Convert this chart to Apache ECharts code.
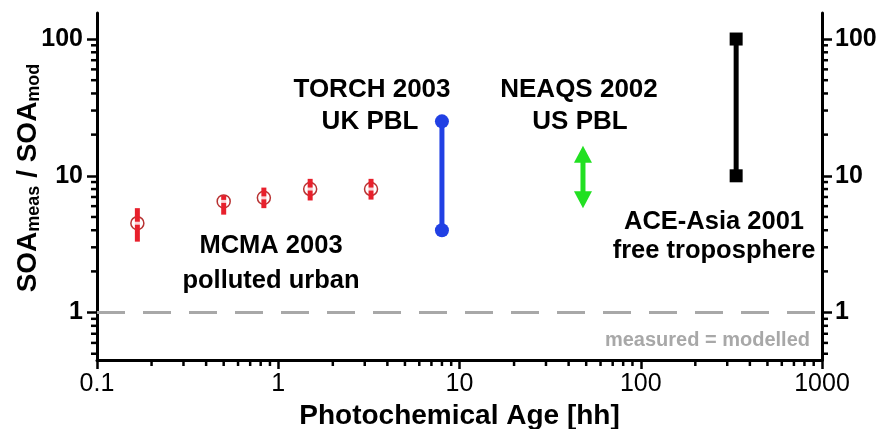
<!DOCTYPE html>
<html><head><meta charset="utf-8">
<script src="https://cdn.jsdelivr.net/npm/echarts@6/dist/echarts.min.js"></script>
<style>html,body{margin:0;padding:0;background:#fff}#c{width:887px;height:429px}</style>
</head><body><div id="c"></div>
<script>
// ---- data ----
const mcmaAge = [0.167, 0.5, 0.833, 1.5, 3.25];
const mcmaRatio = [4.5, 6.5, 6.9, 8.0, 8.0];
const mcmaLow = [3.3, 5.2, 5.8, 6.6, 6.7];
const mcmaHigh = [5.8, 7.2, 8.2, 9.5, 9.5];
const torchAge = [8, 8];
const torchRatio = [4, 25];
const neaqsAge = [48];
const neaqsLow = [5.8];
const neaqsHigh = [16.6];
const aceAge = [336, 336];
const aceRatio = [10, 100];
const xMajorTicks = [0.1, 1, 10, 100, 1000];
const xMinorTicks = [0.2,0.3,0.4,0.5,0.6,0.7,0.8,0.9,2,3,4,5,6,7,8,9,20,30,40,50,60,70,80,90,200,300,400,500,600,700,800,900];
const yMajorTicks = [1, 10, 100];
const yMinorTicks = [0.5,0.6,0.7,0.8,0.9,2,3,4,5,6,7,8,9,20,30,40,50,60,70,80,90];
const refLine = 1;

const FF = '"Liberation Sans", Arial, Helvetica, sans-serif';
const chart = echarts.init(document.getElementById('c'), null, {renderer:'canvas'});
const X_MIN = 0.1, X_MAX = 1000, Y_MIN = 0.45, Y_MAX = 155;
const axLine = {show:true, onZero:false, lineStyle:{color:'#000', width:3}};
const yBase = {type:'log', logBase:10, min:Y_MIN, max:Y_MAX, splitLine:{show:false}, axisLine:axLine};
const tickStyle = {color:'#000', width:2.5};
const blue = '#2140e4', green = '#22e022', red = '#e8202c';
const fmt = v => String(v);

const option = {
  animation:false,
  grid:{left:97, right:65, top:13, bottom:69, containLabel:false, outerBoundsMode:'none'},
  xAxis:{type:'log', logBase:10, min:X_MIN, max:X_MAX, splitLine:{show:false}, axisLine:axLine, position:'bottom',
      axisTick:{show:true, customValues:xMajorTicks, length:9, lineStyle:tickStyle},
      axisLabel:{show:true, customValues:xMajorTicks, fontSize:25, color:'#000', fontFamily:FF, margin:12, formatter:fmt},
      name:'Photochemical Age [hh]', nameLocation:'middle', nameGap:42,
      nameTextStyle:{fontSize:28, fontWeight:'bold', color:'#000', fontFamily:FF}},
  yAxis:[
    Object.assign({}, yBase, {position:'left',
      axisTick:{show:true, customValues:yMajorTicks, length:10, lineStyle:tickStyle},
      axisLabel:{show:true, customValues:yMajorTicks, fontSize:25, fontWeight:'bold', color:'#000', fontFamily:FF, margin:14, formatter:fmt}}),
    Object.assign({}, yBase, {position:'right',
      axisTick:{show:true, customValues:yMajorTicks, length:10, lineStyle:tickStyle},
      axisLabel:{show:true, customValues:yMajorTicks, fontSize:25, fontWeight:'bold', color:'#000', fontFamily:FF, margin:13, formatter:fmt}})
  ],
  series:[
    {type:'line', name:'ref', xAxisIndex:0, yAxisIndex:0, data:[], silent:true,
      markLine:{silent:true, symbol:'none', label:{show:false}, animation:false,
        lineStyle:{color:'#a8a8a8', type:[28,18], width:3},
        data:[{yAxis:refLine}]}},
    {type:'scatter', name:'MCMA', xAxisIndex:0, yAxisIndex:0, z:2,
      data:mcmaAge.map((a,i)=>[a, mcmaRatio[i]]), symbol:'circle', symbolSize:13,
      itemStyle:{color:'#fff', borderColor:'#b83232', borderWidth:1.5, opacity:1}},
    {type:'custom', name:'MCMA err', xAxisIndex:0, yAxisIndex:0, z:3,
      data:mcmaAge.map((a,i)=>[a, mcmaLow[i], mcmaHigh[i]]),
      renderItem:(params, api)=>{
        const lo = api.coord([api.value(0), api.value(1)]);
        const hi = api.coord([api.value(0), api.value(2)]);
        return {type:'line', shape:{x1:lo[0], y1:lo[1], x2:hi[0], y2:hi[1]}, style:{stroke:red, lineWidth:5}};
      }},
    {type:'scatter', name:'MCMA c', xAxisIndex:0, yAxisIndex:0, z:4,
      data:mcmaAge.map((a,i)=>[a, mcmaRatio[i]]), symbol:'rect', symbolSize:[7,3],
      itemStyle:{color:'#fff'}},
    {type:'line', name:'TORCH', xAxisIndex:0, yAxisIndex:0, z:3,
      data:torchAge.map((a,i)=>[a, torchRatio[i]]), symbol:'circle', symbolSize:14,
      lineStyle:{color:blue, width:5}, itemStyle:{color:blue}},
    {type:'custom', name:'NEAQS', xAxisIndex:0, yAxisIndex:0, z:3,
      data:neaqsAge.map((a,i)=>[a, neaqsLow[i], neaqsHigh[i]]),
      renderItem:(params, api)=>{
        const b = api.coord([api.value(0), api.value(1)]);
        const t = api.coord([api.value(0), api.value(2)]);
        const hw = 9, hh = 17;
        return {type:'group', children:[
          {type:'line', shape:{x1:t[0], y1:t[1]+hh-2, x2:b[0], y2:b[1]-hh+2}, style:{stroke:green, lineWidth:5}},
          {type:'polygon', shape:{points:[[t[0],t[1]],[t[0]-hw,t[1]+hh],[t[0]+hw,t[1]+hh]]}, style:{fill:green}},
          {type:'polygon', shape:{points:[[b[0],b[1]],[b[0]-hw,b[1]-hh],[b[0]+hw,b[1]-hh]]}, style:{fill:green}}
        ]};
      }},
    {type:'line', name:'ACE', xAxisIndex:0, yAxisIndex:0, z:3,
      data:aceAge.map((a,i)=>[a, aceRatio[i]]), symbol:'rect', symbolSize:13,
      lineStyle:{color:'#000', width:5}, itemStyle:{color:'#000'}}
  ],
  graphic:[
    {type:'text', id:'ytitle', x:28, y:178, rotation:Math.PI/2,
      style:{text:'{a|SOA}{s|meas}{a| / SOA}{s|mod}', align:'center', verticalAlign:'middle', fill:'#000',
        rich:{a:{fontSize:28, fontWeight:'bold', fontFamily:FF, fill:'#000', lineHeight:32},
              s:{fontSize:18, fontWeight:'bold', fontFamily:FF, fill:'#000', padding:[13,0,0,0]}}}},
    {type:'text', id:'t1', x:372, y:90, style:{text:'TORCH 2003', align:'center', verticalAlign:'middle', font:'bold 26px '+FF, fill:'#000'}},
    {type:'text', id:'t2', x:370, y:122, style:{text:'UK PBL', align:'center', verticalAlign:'middle', font:'bold 26px '+FF, fill:'#000'}},
    {type:'text', id:'t3', x:579, y:90, style:{text:'NEAQS 2002', align:'center', verticalAlign:'middle', font:'bold 26px '+FF, fill:'#000'}},
    {type:'text', id:'t4', x:580, y:122, style:{text:'US PBL', align:'center', verticalAlign:'middle', font:'bold 26px '+FF, fill:'#000'}},
    {type:'text', id:'t5', x:271, y:246, style:{text:'MCMA 2003', align:'center', verticalAlign:'middle', font:'bold 25.5px '+FF, fill:'#000'}},
    {type:'text', id:'t6', x:271, y:281, style:{text:'polluted urban', align:'center', verticalAlign:'middle', font:'bold 25.5px '+FF, fill:'#000'}},
    {type:'text', id:'t7', x:714, y:222, style:{text:'ACE-Asia 2001', align:'center', verticalAlign:'middle', font:'bold 25.5px '+FF, fill:'#000'}},
    {type:'text', id:'t8', x:714, y:251, style:{text:'free troposphere', align:'center', verticalAlign:'middle', font:'bold 25.5px '+FF, fill:'#000'}},
    {type:'text', id:'t9', x:810, y:340, style:{text:'measured = modelled', align:'right', verticalAlign:'middle', font:'bold 20px '+FF, fill:'#a8a8a8'}}
  ]
};
chart.setOption(option);

// minor ticks, placed through the axes' own scales
const xL = chart.convertToPixel({xAxisIndex:0}, X_MIN);
const xR = chart.convertToPixel({xAxisIndex:0}, X_MAX);
const yB = chart.convertToPixel({yAxisIndex:0}, Y_MIN);
const minor = [];
xMinorTicks.forEach((v,i)=>{
  const px = chart.convertToPixel({xAxisIndex:0}, v);
  minor.push({type:'line', id:'xm'+i, z:10, shape:{x1:px, y1:yB, x2:px, y2:yB+6}, style:{stroke:'#000', lineWidth:2.5}});
});
yMinorTicks.forEach((v,i)=>{
  const py = chart.convertToPixel({yAxisIndex:0}, v);
  minor.push({type:'line', id:'yml'+i, z:10, shape:{x1:xL-6, y1:py, x2:xL, y2:py}, style:{stroke:'#000', lineWidth:2.5}});
  minor.push({type:'line', id:'ymr'+i, z:10, shape:{x1:xR, y1:py, x2:xR+6, y2:py}, style:{stroke:'#000', lineWidth:2.5}});
});
chart.setOption({graphic:minor});
</script></body></html>
